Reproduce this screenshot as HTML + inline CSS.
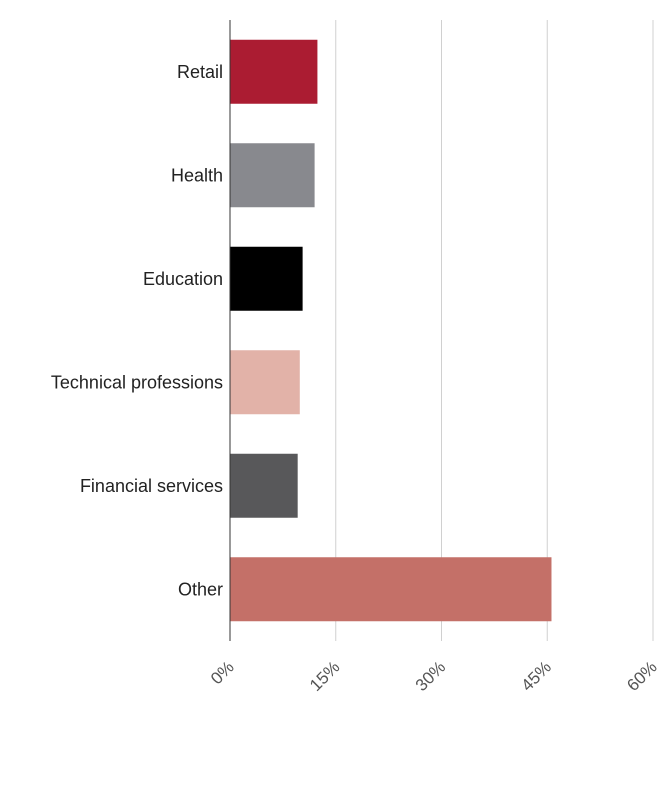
<!DOCTYPE html>
<html><head><meta charset="utf-8"><style>
html,body{margin:0;padding:0;background:#fff;width:664px;height:812px;overflow:hidden}
text{font-family:"Liberation Sans",sans-serif}
</style></head><body>
<svg id="chart" width="664" height="812"></svg>
<script>
const categories=["Retail","Health","Education","Technical professions","Financial services","Other"];
const values=[12.4,12.0,10.3,9.9,9.6,45.6];
const colors=["#ab1c32","#88898e","#000000","#e2b2a8","#58585a","#c47068"];
const ticks=[0,15,30,45,60];
const tickLabels=["0%","15%","30%","45%","60%"];
{
const NS="http://www.w3.org/2000/svg";
const svg=document.getElementById('chart');
const x0=230,x1=653,yTop=20,yBot=641;
const xs=v=>x0+(v-0)/(60-0)*(x1-x0);
const band=(yBot-yTop)/categories.length;
const ys=i=>yTop+i*band;
function mk(t,a){const e=document.createElementNS(NS,t);for(const k in a)e.setAttribute(k,a[k]);svg.appendChild(e);return e;}
ticks.forEach((t,i)=>{
  if(t>0){const g=mk('line',{x1:xs(t),x2:xs(t),y1:yTop,y2:yBot,stroke:'#d0d0d0','stroke-width':1});
  
  }
  const X=xs(t)+5,Y=668;
  const tx=mk('text',{x:X,y:Y,'text-anchor':'end','font-size':17,fill:'#555',transform:`rotate(-45 ${X} ${Y})`});
  tx.textContent=tickLabels[i];
  
  
});
categories.forEach((c,i)=>{
  const h=64,y=ys(i)+(band-h)/2;
  const r=mk('rect',{x:x0,y:y,width:xs(values[i])-x0,height:h,fill:colors[i]});
  
  
  const t=mk('text',{x:223,y:y+h/2+6,'text-anchor':'end','font-size':18,fill:'#222'});
  t.textContent=c;
  
  
});
const ax=mk('line',{x1:x0,x2:x0,y1:yTop,y2:yBot,stroke:'#333','stroke-width':1});


}
</script>
</body></html>
